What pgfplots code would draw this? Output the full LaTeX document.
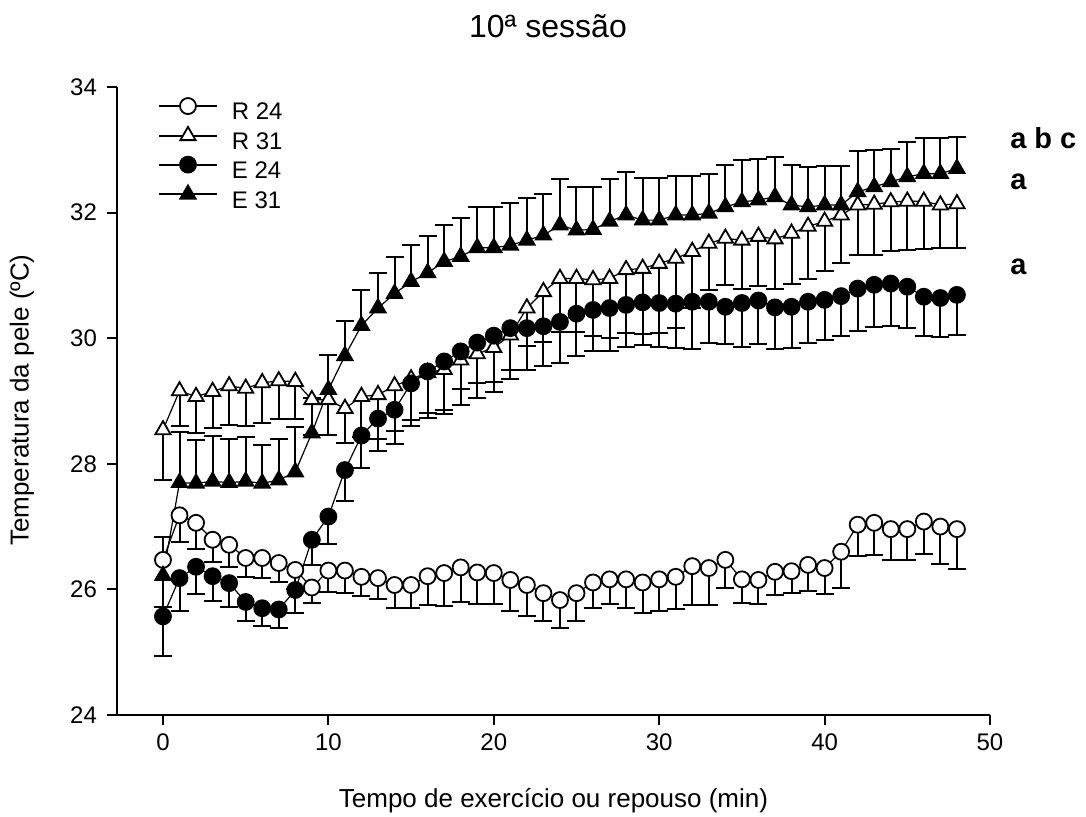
\documentclass[border=0pt]{standalone}
\usepackage{fontspec}
\setmainfont{Liberation Sans}
\usepackage{pgfplots}
\pgfplotsset{compat=1.18}
\usepackage{pgfplotstable}

\pgfplotstableread{
x y e
0 26.47 0.75
1 27.18 0.42
2 27.06 0.42
3 26.79 0.35
4 26.71 0.36
5 26.50 0.31
6 26.50 0.32
7 26.42 0.30
8 26.31 0.30
9 26.03 0.25
10 26.30 0.34
11 26.30 0.36
12 26.20 0.31
13 26.18 0.34
14 26.07 0.37
15 26.07 0.37
16 26.21 0.46
17 26.26 0.52
18 26.35 0.55
19 26.27 0.50
20 26.26 0.50
21 26.15 0.49
22 26.07 0.49
23 25.94 0.44
24 25.83 0.44
25 25.94 0.44
26 26.11 0.40
27 26.16 0.39
28 26.16 0.46
29 26.11 0.49
30 26.16 0.51
31 26.20 0.52
32 26.37 0.62
33 26.34 0.59
34 26.47 0.45
35 26.16 0.37
36 26.15 0.38
37 26.28 0.37
38 26.29 0.35
39 26.39 0.41
40 26.34 0.42
41 26.60 0.58
42 27.03 0.50
43 27.06 0.51
44 26.96 0.49
45 26.96 0.49
46 27.08 0.52
47 27.00 0.60
48 26.96 0.64
}\Rtf

\pgfplotstableread{
x y e
0 28.54 0.80
1 29.16 0.56
2 29.07 0.58
3 29.15 0.58
4 29.24 0.62
5 29.20 0.60
6 29.29 0.64
7 29.32 0.60
8 29.31 0.59
9 29.02 0.56
10 29.02 0.56
11 28.88 0.55
12 29.07 0.64
13 29.10 0.70
14 29.24 0.72
15 29.35 0.75
16 29.45 0.72
17 29.50 0.70
18 29.65 0.72
19 29.75 0.70
20 29.85 0.70
21 30.05 0.70
22 30.48 0.60
23 30.74 0.80
24 30.95 0.85
25 30.95 0.85
26 30.93 0.90
27 30.95 0.95
28 31.09 1.00
29 31.11 1.05
30 31.19 1.10
31 31.27 1.10
32 31.38 0.90
33 31.51 0.74
34 31.59 0.74
35 31.56 0.77
36 31.62 0.79
37 31.58 0.79
38 31.67 0.80
39 31.78 0.84
40 31.86 0.79
41 31.96 0.77
42 32.12 0.79
43 32.13 0.80
44 32.17 0.78
45 32.18 0.77
46 32.18 0.76
47 32.12 0.69
48 32.14 0.71
}\Rto

\pgfplotstableread{
x y e
0 25.57 0.63
1 26.18 0.52
2 26.36 0.43
3 26.21 0.39
4 26.10 0.38
5 25.80 0.31
6 25.70 0.29
7 25.68 0.30
8 25.99 0.37
9 26.79 0.40
10 27.16 0.44
11 27.90 0.50
12 28.45 0.52
13 28.72 0.52
14 28.86 0.55
15 29.28 0.58
16 29.47 0.66
17 29.63 0.77
18 29.79 0.60
19 29.93 0.65
20 30.04 0.73
21 30.16 0.66
22 30.16 0.66
23 30.19 0.64
24 30.26 0.65
25 30.39 0.67
26 30.45 0.66
27 30.48 0.68
28 30.53 0.67
29 30.57 0.68
30 30.56 0.70
31 30.55 0.70
32 30.58 0.76
33 30.58 0.66
34 30.50 0.60
35 30.56 0.70
36 30.60 0.69
37 30.49 0.67
38 30.50 0.66
39 30.58 0.65
40 30.61 0.64
41 30.67 0.63
42 30.79 0.67
43 30.85 0.67
44 30.87 0.67
45 30.82 0.66
46 30.66 0.62
47 30.64 0.62
48 30.69 0.64
}\Etf

\pgfplotstableread{
x y e
0 26.22 0.61
1 27.70 0.80
2 27.69 0.69
3 27.72 0.72
4 27.70 0.70
5 27.72 0.70
6 27.69 0.61
7 27.74 0.65
8 27.87 0.72
9 28.49 0.55
10 29.18 0.55
11 29.72 0.56
12 30.20 0.56
13 30.48 0.56
14 30.71 0.58
15 30.90 0.58
16 31.04 0.59
17 31.22 0.58
18 31.30 0.61
19 31.44 0.65
20 31.44 0.65
21 31.48 0.68
22 31.56 0.68
23 31.64 0.66
24 31.80 0.73
25 31.72 0.68
26 31.73 0.68
27 31.86 0.67
28 31.96 0.68
29 31.88 0.67
30 31.88 0.67
31 31.96 0.63
32 31.96 0.63
33 31.99 0.62
34 32.09 0.66
35 32.17 0.67
36 32.20 0.66
37 32.25 0.64
38 32.12 0.64
39 32.09 0.64
40 32.12 0.62
41 32.12 0.62
42 32.33 0.65
43 32.41 0.58
44 32.49 0.53
45 32.57 0.55
46 32.62 0.56
47 32.62 0.56
48 32.70 0.50
}\Eto

\begin{document}
\begin{tikzpicture}
\useasboundingbox (-58.5pt,-51pt) rectangle (484.5pt,357.5pt);
\begin{axis}[
  scale only axis,
  width=436.5pt, height=314pt,
  xmin=-2.78, xmax=50, ymin=24, ymax=34,
  clip=false,
  axis lines=left,
  axis line style={-, line width=1pt},
  xtick={0,10,...,50}, ytick={24,26,...,34},
  tick align=outside,
  major tick length=5pt,
  tick style={line width=1pt, black},
  ticklabel style={font=\fontsize{12}{14}\selectfont},
  yticklabel style={xshift=-1.5pt},
  xticklabel style={yshift=-1pt},
  /pgf/number format/assume math mode=true,
  xlabel={Tempo de exercício ou repouso (min)},
  ylabel={Temperatura da pele (ºC)},
  label style={font=\fontsize{13}{15}\selectfont},
  xlabel style={at={(rel axis cs:0.5,-0.137)}, anchor=center},
  ylabel style={at={(rel axis cs:-0.1088,0.5016)}, anchor=center},
  legend style={at={(axis cs:-0.32,33.83)}, anchor=north west, draw=none, fill=none,
    inner sep=0pt, font=\fontsize{12}{14}\selectfont, row sep=0pt, column sep=5pt},
  legend cell align=left,
  legend image code/.code={\draw[mark repeat=2,mark phase=2,yshift=0.35em,line width=0.9pt,#1] plot coordinates {(0pt,0pt) (14.5pt,0pt) (29pt,0pt)};},
  every axis plot/.append style={black, line width=0.6pt},
  error bars/error bar style={line width=1pt, black},
  error bars/error mark options={rotate=90, mark size=4.5pt, line width=1pt, black},
]
\addplot[mark=*, mark size=4pt, mark options={fill=white, line width=0.9pt},
  error bars/.cd, y dir=minus, y explicit]
  table[x=x, y=y, y error=e] {\Rtf};
\addlegendentry{R 24}
\addplot[mark=triangle*, mark size=4.4pt, mark options={fill=white, line width=0.9pt},
  error bars/.cd, y dir=minus, y explicit]
  table[x=x, y=y, y error=e] {\Rto};
\addlegendentry{R 31}
\addplot[mark=*, mark size=4pt, mark options={fill=black, line width=0.9pt},
  error bars/.cd, y dir=minus, y explicit]
  table[x=x, y=y, y error=e] {\Etf};
\addlegendentry{E 24}
\addplot[mark=triangle*, mark size=4.4pt, mark options={fill=black, line width=0.9pt},
  error bars/.cd, y dir=plus, y explicit]
  table[x=x, y=y, y error=e] {\Eto};
\addlegendentry{E 31}

\node[font=\fontsize{16}{19}\selectfont] at (rel axis cs:0.4937,1.0971) {10ª sessão};
\node[anchor=base west, inner sep=0pt, font=\bfseries\fontsize{14.5}{17}\selectfont] at (axis cs:51.2,33.02) {a b c};
\node[anchor=base west, inner sep=0pt, font=\bfseries\fontsize{14.5}{17}\selectfont] at (axis cs:51.2,32.36) {a};
\node[anchor=base west, inner sep=0pt, font=\bfseries\fontsize{14.5}{17}\selectfont] at (axis cs:51.2,31.01) {a};
\end{axis}
\end{tikzpicture}
\end{document}
